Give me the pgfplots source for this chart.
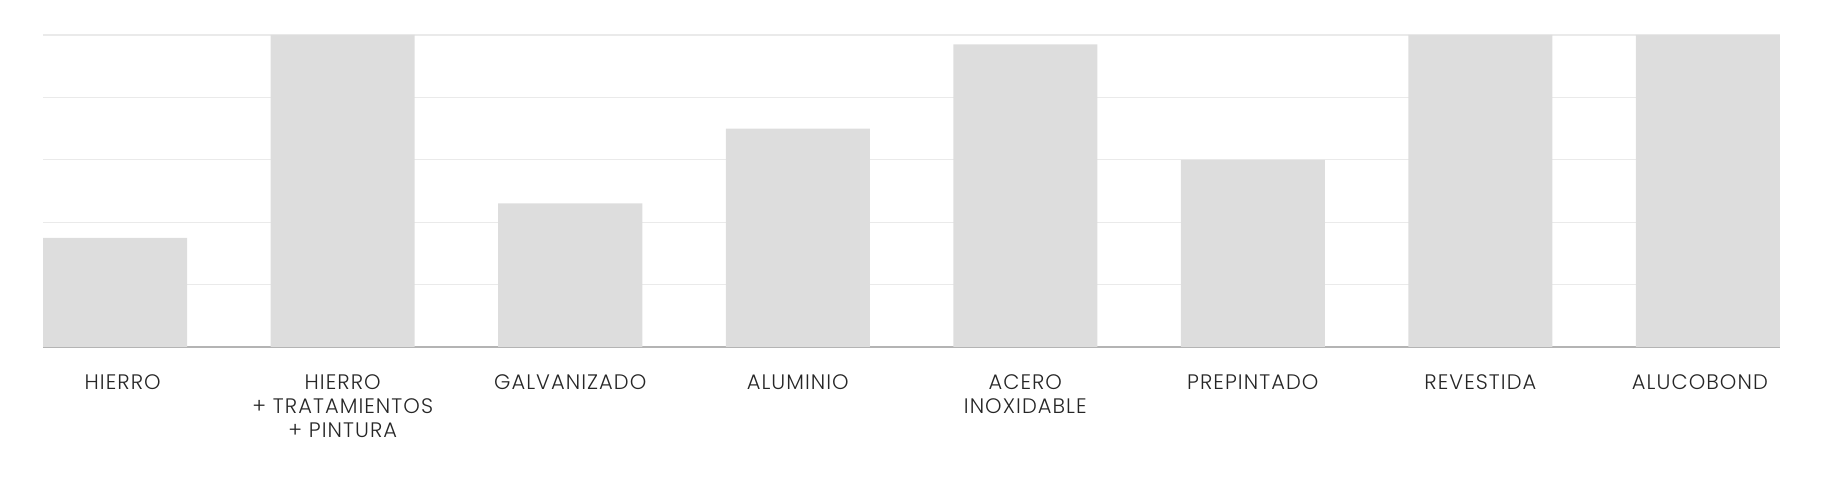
\documentclass[border=0pt]{standalone}
\usepackage{pgfplots}
\pgfplotsset{compat=1.18}
\usepackage{fontspec}
\setmainfont{Poppins}[UprightFont=* Light, LetterSpace=5]
\definecolor{barc}{HTML}{DDDDDD}
\definecolor{gridc}{HTML}{EAEAEA}
\definecolor{axisc}{HTML}{B4B4B4}
\definecolor{textc}{HTML}{262626}
\begin{document}
\begin{tikzpicture}[x=1pt,y=1pt]
\useasboundingbox (0,0) rectangle (1824,484);
\begin{axis}[
  at={(43.3pt,137pt)}, anchor=south west,
  scale only axis, width=1736.5pt, height=312pt,
  xmin=-0.316, xmax=7.316, ymin=0, ymax=5,
  ybar, bar width=144pt, bar shift=0pt,
  axis x line*=bottom, axis y line*=left,
  x axis line style={draw=axisc, line width=1.6pt, -},
  y axis line style={draw=none},
  ytick={1,2,3,4,5}, yticklabels={},
  ymajorgrids, grid style={draw=gridc, line width=1.3pt},
  major tick length=0pt,
  xtick={0.033,1,2,3,4,5,6,6.965},
  xticklabels={HIERRO, HIERRO\\+ TRATAMIENTOS\\+ PINTURA, GALVANIZADO, ALUMINIO, ACERO\\INOXIDABLE, PREPINTADO, REVESTIDA, ALUCOBOND},
  xticklabel style={align=center, anchor=north, inner sep=0pt, yshift=-27pt, text=textc, font=\fontsize{21}{24}\selectfont},
  clip=false,
]
\addplot[fill=barc, draw=none] coordinates {(0,1.75) (1,5) (2,2.3) (3,3.5) (4,4.85) (5,3) (6,5) (7,5)};
\end{axis}
\end{tikzpicture}
\end{document}
